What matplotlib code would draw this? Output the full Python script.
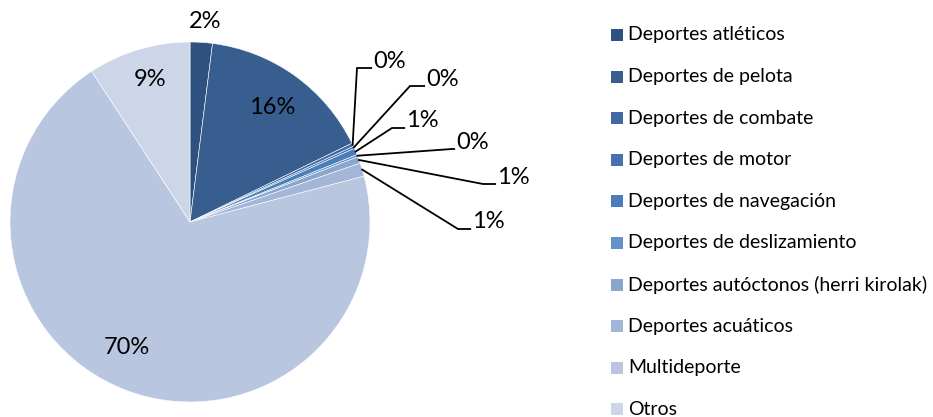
import numpy as np
import matplotlib.pyplot as plt
from matplotlib.patches import Rectangle

# categorias y porcentajes
categorias = ['Deportes atléticos', 'Deportes de pelota', 'Deportes de combate',
              'Deportes de motor', 'Deportes de navegación', 'Deportes de deslizamiento',
              'Deportes autóctonos (herri kirolak)', 'Deportes acuáticos',
              'Multideporte', 'Otros']
porcentajes = [2.0, 15.8, 0.3, 0.2, 0.6, 0.2, 0.6, 1.2, 69.9, 9.2]
colores = ['#2E5180', '#385E8F', '#3F69A0', '#4572AE', '#4A7EBB',
           '#6690C8', '#8AA5CE', '#A3B6D8', '#B9C6E0', '#CDD6E8']

plt.rcParams['font.family'] = ['Lato', 'DejaVu Sans']

W, H = 933, 417
CX, CY, R = 190, 222, 180   # centro y radio del pastel en pixeles

fig = plt.figure(figsize=(W / 100, H / 100), dpi=100)
ax = fig.add_axes([0, 0, 1, 1])


def px(x, y):
    # pixeles -> coordenadas del eje
    return (x - CX) / R, (CY - y) / R


wedges, _ = ax.pie(porcentajes, colors=colores, startangle=90, counterclock=False,
                   radius=1, wedgeprops=dict(edgecolor='white', linewidth=0.4))
ax.set_xlim(-CX / R, (W - CX) / R)
ax.set_ylim(-(H - CY) / R, CY / R)
ax.axis('off')

etiquetas = ['%d%%' % round(p) for p in porcentajes]

# etiquetas dentro / cerca del pastel
internas = {0: (205, 22), 1: (272, 108), 8: (127, 348), 9: (150, 80)}
for i, (x, y) in internas.items():
    ax.text(*px(x, y), etiquetas[i], ha='center', va='center', fontsize=17)

# etiquetas con linea guia para los sectores pequeños: (codo, texto)
guias = {2: ((357, 68), (373, 62)),
         3: ((410, 86), (426, 80)),
         4: ((392, 128), (406, 121)),
         5: ((452, 149), (456, 143)),
         6: ((483, 184), (497, 178)),
         7: ((458, 229), (472, 222))}
for i, (codo, texto) in guias.items():
    w = wedges[i]
    ang = np.deg2rad((w.theta1 + w.theta2) / 2)
    x0, y0 = np.cos(ang), np.sin(ang)
    xc, yc = px(*codo)
    xt, yt = px(*texto)
    ax.plot([x0, xc, xt - 0.01], [y0, yc, yc], color='black', lw=1.3,
            solid_joinstyle='miter')
    ax.text(xt, yt, etiquetas[i], ha='left', va='center', fontsize=17)

# leyenda
for k, (nombre, c) in enumerate(zip(categorias, colores)):
    yk = 35 + k * 41.6
    x0, y0 = px(611, yk + 6)
    ax.add_patch(Rectangle((x0, y0), 12 / R, 12 / R, facecolor=c, edgecolor='none'))
    ax.text(*px(628, yk), nombre, ha='left', va='center', fontsize=14)

fig.savefig('out.png', dpi=100)
